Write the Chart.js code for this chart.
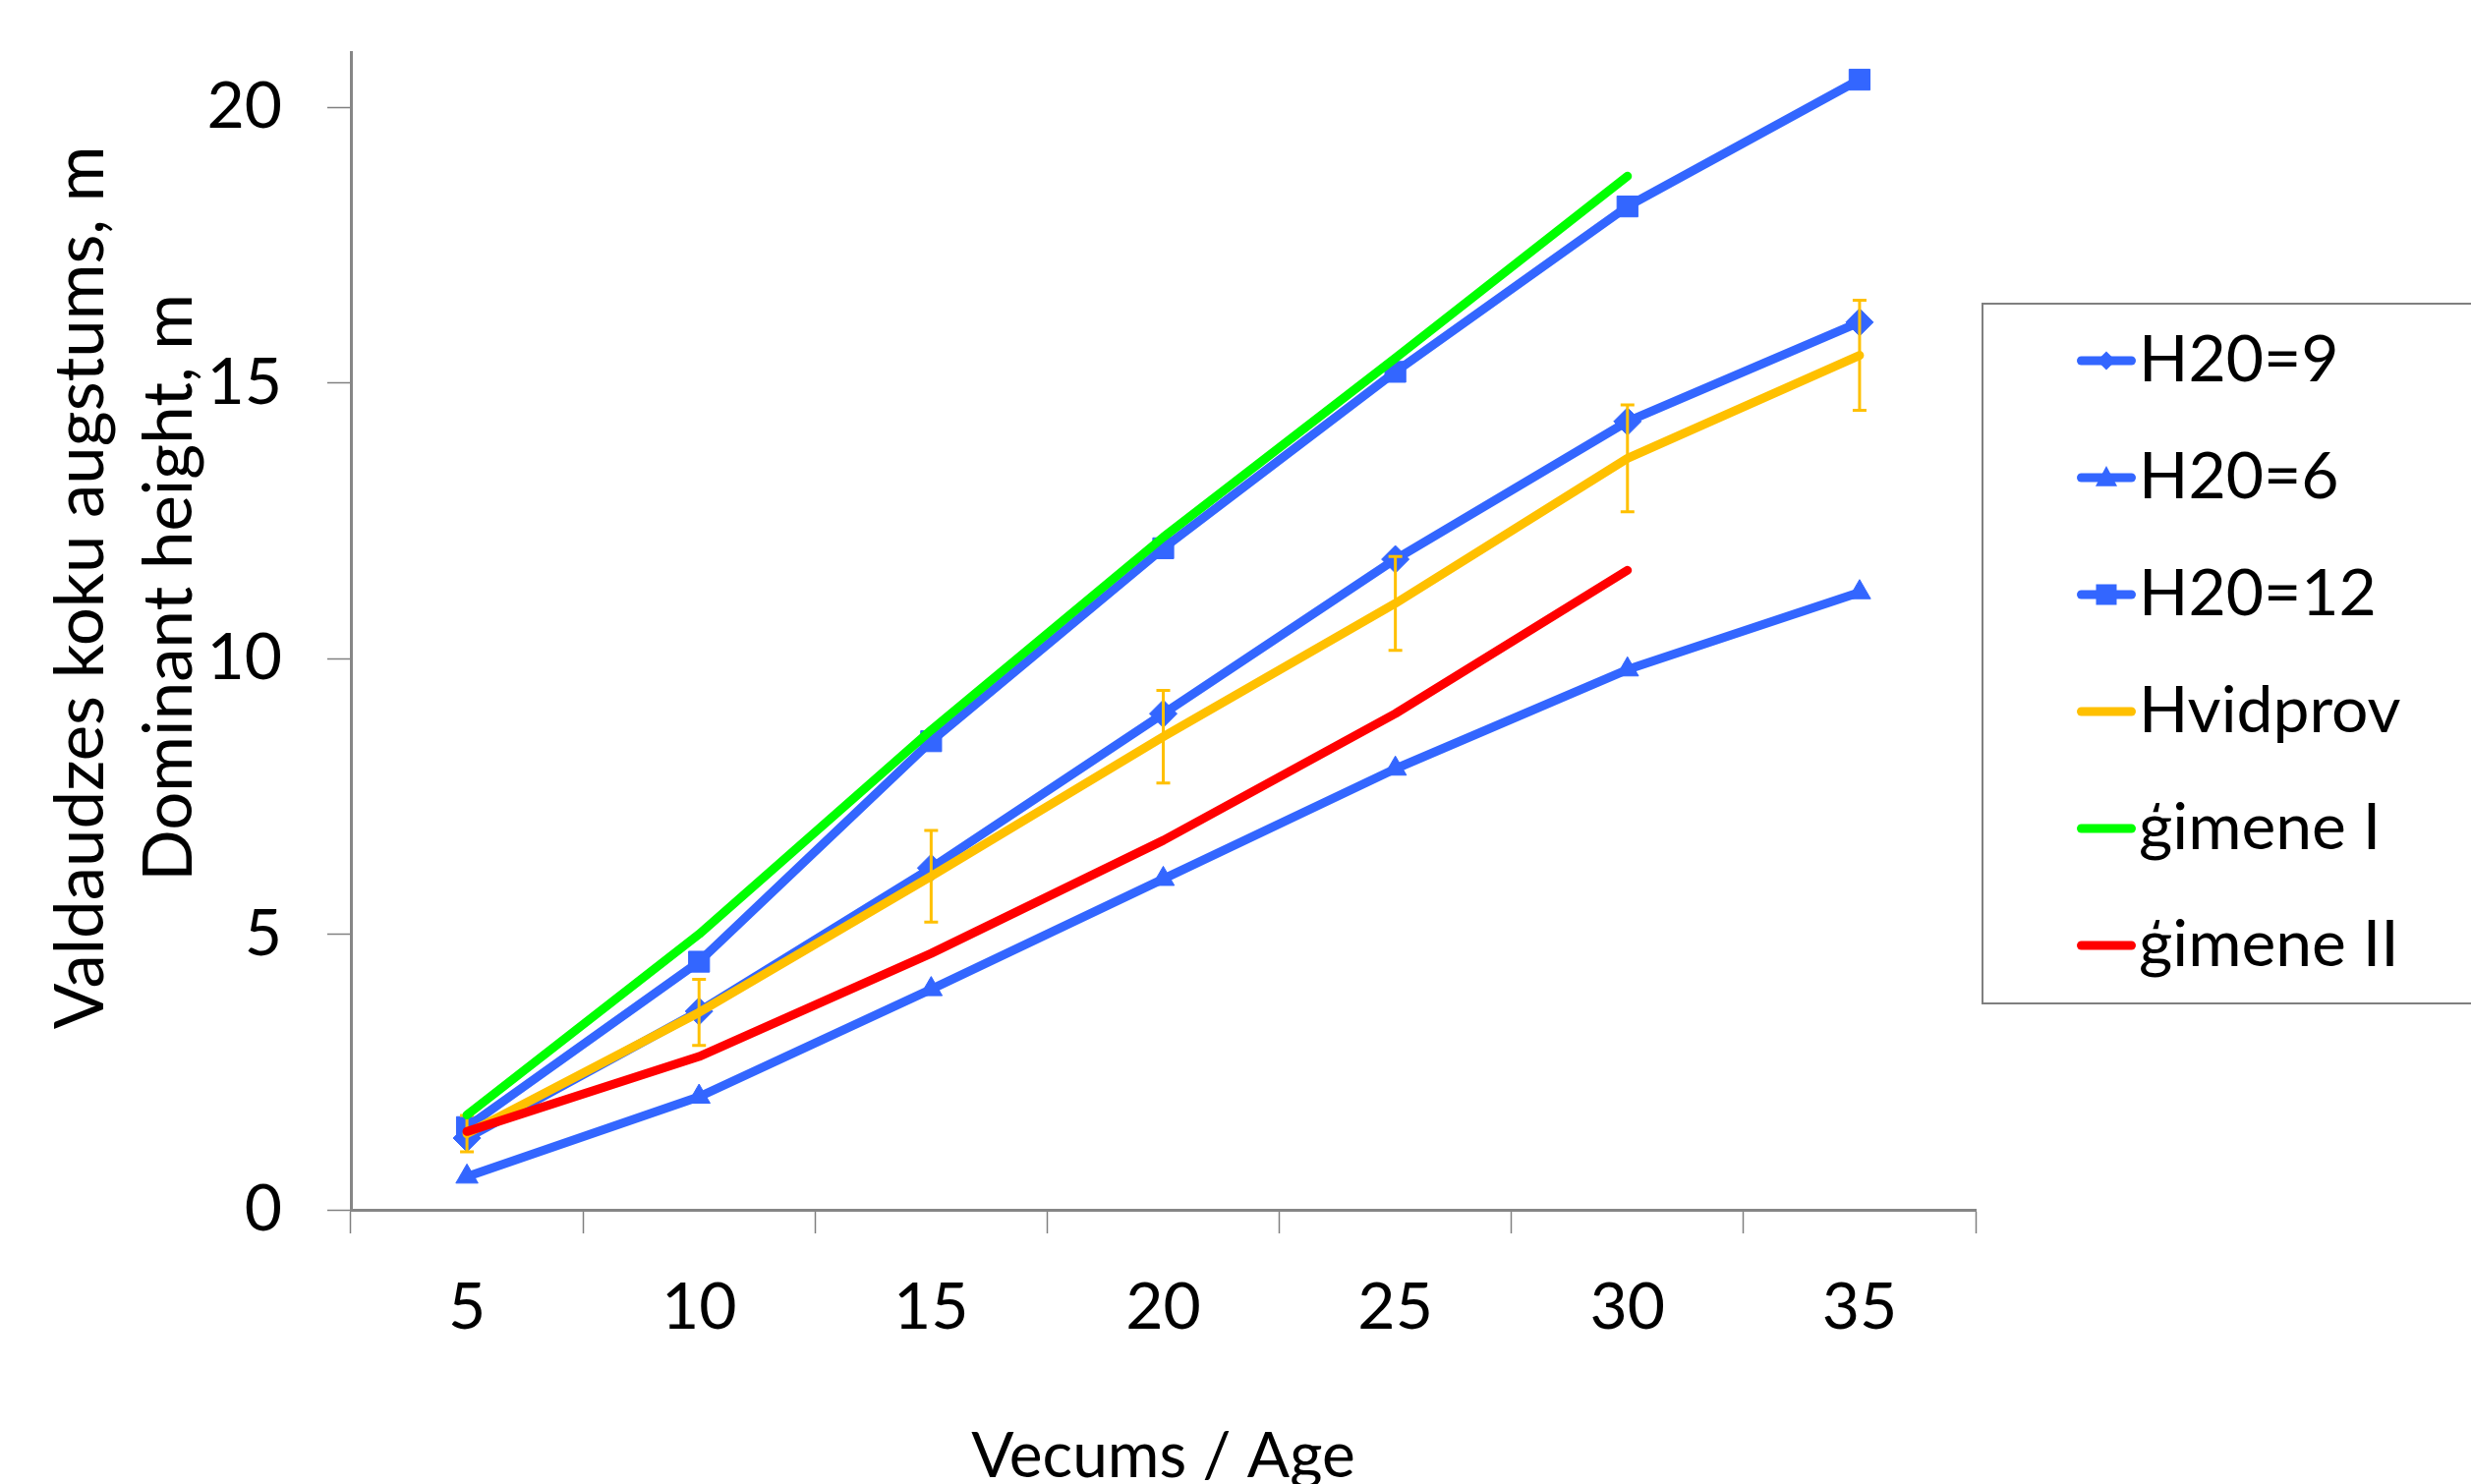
<!DOCTYPE html>
<html>
<head>
<meta charset="utf-8">
<script src="https://cdn.jsdelivr.net/npm/chart.js@4/dist/chart.umd.min.js"></script>
<style>
  html, body { margin: 0; padding: 0; background: #fff; }
  canvas { display: block; }
</style>
</head>
<body>
<canvas id="heightChart" width="2514" height="1510"></canvas>
<script>
const ages = ['5', '10', '15', '20', '25', '30', '35'];
const h20_9 = [1.3, 3.6, 6.2, 9.0, 11.8, 14.3, 16.1];
const h20_6 = [0.6, 2.05, 4.0, 6.0, 8.0, 9.8, 11.2];
const h20_12 = [1.5, 4.5, 8.5, 12.0, 15.2, 18.2, 20.5];
const hvidprov = [1.38, 3.58, 6.05, 8.58, 11.0, 13.63, 15.5];
const hvidprovErr = [0.33, 0.6, 0.83, 0.84, 0.85, 0.97, 1.0];
const gimeneI = [1.72, 5.0, 8.7, 12.2, 15.45, 18.75, null];
const gimeneII = [1.42, 2.78, 4.65, 6.7, 9.0, 11.6, null];
const yTicks = [0, 5, 10, 15, 20];

const BLUE = '#3366ff';
const YELLOW = '#ffc000';
const GREEN = '#00ff00';
const RED = '#ff0000';
const FONT = 'Lato';

const canvasW = 2514;
const plotLeft = 357;
const plotRight = 2010;
const plotTop = 53;
const plotBottom = 1231;

// legend settings
const legendFont = 66;
const legendPad = 53;
const legendBoxW = 80;

// legend icon: short line with the marker in the middle
function legendIcon(color, style, r) {
    const c = document.createElement('canvas');
    c.width = 150;
    c.height = 40;
    const g = c.getContext('2d');
    g.strokeStyle = color;
    g.fillStyle = color;
    g.lineWidth = 9;
    g.lineCap = 'round';
    g.beginPath();
    g.moveTo(89.5, 20);
    g.lineTo(140.5, 20);
    g.stroke();
    const cx = 115, cy = 20;
    g.beginPath();
    if (style === 'rect') {
        g.rect(cx - r, cy - r, 2 * r, 2 * r);
    } else if (style === 'rectRot') {
        g.moveTo(cx, cy - r); g.lineTo(cx + r, cy); g.lineTo(cx, cy + r); g.lineTo(cx - r, cy);
        g.closePath();
    } else if (style === 'triangle') {
        g.moveTo(cx, cy - r * 1.1); g.lineTo(cx + r, cy + r * 0.8); g.lineTo(cx - r, cy + r * 0.8);
        g.closePath();
    }
    if (style) g.fill();
    return c;
}

const icons = [
    legendIcon(BLUE, 'rectRot', 9.5),
    legendIcon(BLUE, 'triangle', 11),
    legendIcon(BLUE, 'rect', 10.5),
    legendIcon(YELLOW),
    legendIcon(GREEN),
    legendIcon(RED)
];

const names = ['H20=9', 'H20=6', 'H20=12', 'Hvidprov', 'ģimene I', 'ģimene II'];

// work out how wide the legend will be so the plot ends where it should
const mctx = document.createElement('canvas').getContext('2d');
mctx.font = legendFont + 'px ' + FONT;
let maxText = 0;
names.forEach(n => { maxText = Math.max(maxText, mctx.measureText(n).width); });
const legendWidth = legendPad + legendBoxW + legendFont / 2 + maxText + 10;
const padRight = canvasW - plotRight - legendWidth;

const errorBars = {
    id: 'errorBars',
    afterDatasetDraw(chart, args) {
        if (args.index !== 3) return;
        const {ctx, scales: {x, y}} = chart;
        ctx.save();
        ctx.strokeStyle = YELLOW;
        ctx.lineWidth = 3;
        hvidprov.forEach((v, i) => {
            const px = x.getPixelForValue(i);
            const top = y.getPixelForValue(v + hvidprovErr[i]);
            const bot = y.getPixelForValue(v - hvidprovErr[i]);
            ctx.beginPath();
            ctx.moveTo(px, top); ctx.lineTo(px, bot);
            ctx.moveTo(px - 7, top); ctx.lineTo(px + 7, top);
            ctx.moveTo(px - 7, bot); ctx.lineTo(px + 7, bot);
            ctx.stroke();
        });
        ctx.restore();
    }
};

const legendBorder = {
    id: 'legendBorder',
    afterDraw(chart) {
        const lg = chart.legend;
        const boxes = lg.legendHitBoxes;
        if (!boxes || !boxes.length) return;
        const first = boxes[0].top + legendFont / 2;
        const last = boxes[boxes.length - 1].top + legendFont / 2;
        const ctx = chart.ctx;
        ctx.save();
        ctx.strokeStyle = '#7f7f7f';
        ctx.lineWidth = 2;
        ctx.strokeRect(lg.left + 7, first - 58, canvasW, last - first + 117);
        ctx.restore();
    }
};

function lineSet(label, data, color, style, radius, idx) {
    return {
        label: label,
        data: data,
        borderColor: color,
        backgroundColor: color,
        borderWidth: 9,
        borderCapStyle: 'round',
        borderJoinStyle: 'round',
        pointStyle: style || 'circle',
        pointRadius: radius || 0,
        pointBorderWidth: 1,
        pointBorderColor: color,
        pointBackgroundColor: color,
        tension: 0,
        spanGaps: false,
        order: 10 - idx
    };
}

new Chart(document.getElementById('heightChart'), {
    type: 'line',
    data: {
        labels: ages,
        datasets: [
            lineSet(names[0], h20_9, BLUE, 'rectRot', 14, 0),
            lineSet(names[1], h20_6, BLUE, 'triangle', 13, 1),
            lineSet(names[2], h20_12, BLUE, 'rect', 15, 2),
            lineSet(names[3], hvidprov, YELLOW, null, 0, 3),
            lineSet(names[4], gimeneI, GREEN, null, 0, 4),
            lineSet(names[5], gimeneII, RED, null, 0, 5)
        ]
    },
    options: {
        responsive: false,
        animation: false,
        events: [],
        layout: {
            padding: {top: plotTop, left: 0, bottom: 0, right: padRight}
        },
        plugins: {
            tooltip: {enabled: false},
            legend: {
                position: 'right',
                fullSize: false,
                title: { // invisible title, only nudges the items down a bit
                    display: true,
                    text: ' ',
                    font: {size: 20},
                    padding: {top: 10, bottom: 11}
                },
                labels: {
                    usePointStyle: true,
                    pointStyleWidth: legendBoxW,
                    padding: legendPad,
                    color: '#000',
                    font: {family: FONT, size: legendFont},
                    sort: (a, b) => a.datasetIndex - b.datasetIndex,
                    generateLabels(chart) {
                        const items = Chart.defaults.plugins.legend.labels.generateLabels(chart);
                        items.forEach(it => { it.pointStyle = icons[it.datasetIndex]; });
                        return items;
                    }
                }
            }
        },
        scales: {
            x: {
                type: 'category',
                offset: true,
                grid: {
                    offset: true,
                    drawOnChartArea: false,
                    tickLength: 24,
                    tickColor: '#808080',
                    tickWidth: 1.5
                },
                border: {color: '#868686', width: 3},
                ticks: {
                    color: '#000',
                    padding: 36,
                    maxRotation: 0,
                    font: {family: FONT, size: 66}
                },
                title: {
                    display: true,
                    text: 'Vecums / Age',
                    color: '#000',
                    font: {family: FONT, size: 64, lineHeight: 0.85},
                    padding: {top: 0, bottom: 0}
                },
                afterFit(s) { s.height = 1510 - plotBottom; }
            },
            y: {
                min: 0,
                max: 21,
                grid: {
                    drawOnChartArea: false,
                    tickLength: 24,
                    tickColor: '#808080',
                    tickWidth: 1.5
                },
                border: {color: '#868686', width: 3},
                ticks: {
                    stepSize: 5,
                    color: '#000',
                    padding: 46,
                    // small line height so the label box does not push the plot top down
                    font: {family: FONT, size: 66, lineHeight: 0.2}
                },
                afterBuildTicks(s) {
                    s.ticks = yTicks.map(v => ({value: v}));
                },
                title: {
                    display: true,
                    // leading spaces lift the rotated text a little, like the original
                    text: ['     Valdaudzes koku augstums, m', '     Dominant height, m'],
                    color: '#000',
                    font: {family: FONT, size: 69, lineHeight: 1.304},
                    padding: {top: 38, bottom: 0}
                },
                afterFit(s) { s.width = plotLeft; }
            }
        }
    },
    plugins: [errorBars, legendBorder]
});
</script>
</body>
</html>
